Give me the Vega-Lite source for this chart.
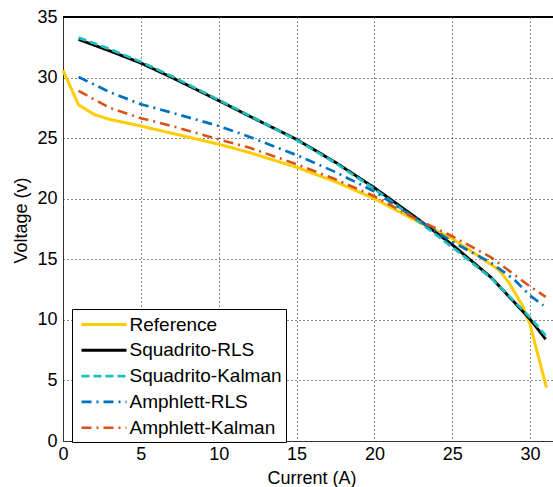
{
  "$schema": "https://vega.github.io/schema/vega-lite/v6.json",
  "width": 490,
  "height": 424,
  "autosize": {"type": "none"},
  "padding": {"left": 63, "top": 17, "right": 0, "bottom": 46},
  "background": "white",
  "config": {
    "view": {"stroke": null},
    "font": "Liberation Sans",
    "axis": {
      "labelFont": "Liberation Sans",
      "titleFont": "Liberation Sans",
      "labelFontSize": 18,
      "titleFontSize": 18,
      "titleFontWeight": "normal",
      "labelColor": "#000",
      "titleColor": "#000",
      "ticks": false,
      "tickSize": 0,
      "domainColor": "#333",
      "domainWidth": 1,
      "grid": true,
      "gridColor": "#111",
      "gridDash": [1, 3],
      "gridWidth": 1,
      "gridOpacity": 1
    }
  },
  "data": {
    "values": [
      {"s": "Reference", "I": 0, "V": 30.6},
      {"s": "Reference", "I": 1, "V": 27.75},
      {"s": "Reference", "I": 2, "V": 26.95},
      {"s": "Reference", "I": 3, "V": 26.55},
      {"s": "Reference", "I": 5, "V": 26.0},
      {"s": "Reference", "I": 7, "V": 25.4},
      {"s": "Reference", "I": 10, "V": 24.5},
      {"s": "Reference", "I": 12, "V": 23.8},
      {"s": "Reference", "I": 15, "V": 22.6},
      {"s": "Reference", "I": 17.5, "V": 21.4},
      {"s": "Reference", "I": 20, "V": 20.0},
      {"s": "Reference", "I": 22.5, "V": 18.3},
      {"s": "Reference", "I": 25, "V": 16.7},
      {"s": "Reference", "I": 27, "V": 15.0},
      {"s": "Reference", "I": 28, "V": 14.1},
      {"s": "Reference", "I": 28.6, "V": 13.15},
      {"s": "Reference", "I": 29.5, "V": 11.2},
      {"s": "Reference", "I": 30.0, "V": 9.6},
      {"s": "Reference", "I": 31.05, "V": 4.4},

      {"s": "Squadrito-RLS", "I": 1, "V": 33.15},
      {"s": "Squadrito-RLS", "I": 3, "V": 32.2},
      {"s": "Squadrito-RLS", "I": 5, "V": 31.2},
      {"s": "Squadrito-RLS", "I": 7, "V": 30.0},
      {"s": "Squadrito-RLS", "I": 10, "V": 28.1},
      {"s": "Squadrito-RLS", "I": 12, "V": 26.8},
      {"s": "Squadrito-RLS", "I": 15, "V": 24.9},
      {"s": "Squadrito-RLS", "I": 17.5, "V": 23.0},
      {"s": "Squadrito-RLS", "I": 20, "V": 20.9},
      {"s": "Squadrito-RLS", "I": 22.5, "V": 18.6},
      {"s": "Squadrito-RLS", "I": 25, "V": 16.2},
      {"s": "Squadrito-RLS", "I": 27.5, "V": 13.5},
      {"s": "Squadrito-RLS", "I": 30, "V": 10.05},
      {"s": "Squadrito-RLS", "I": 31, "V": 8.4},

      {"s": "Squadrito-Kalman", "I": 1, "V": 33.3},
      {"s": "Squadrito-Kalman", "I": 3, "V": 32.35},
      {"s": "Squadrito-Kalman", "I": 5, "V": 31.3},
      {"s": "Squadrito-Kalman", "I": 7, "V": 30.1},
      {"s": "Squadrito-Kalman", "I": 10, "V": 28.15},
      {"s": "Squadrito-Kalman", "I": 12, "V": 26.85},
      {"s": "Squadrito-Kalman", "I": 15, "V": 24.85},
      {"s": "Squadrito-Kalman", "I": 17.5, "V": 22.95},
      {"s": "Squadrito-Kalman", "I": 20, "V": 20.8},
      {"s": "Squadrito-Kalman", "I": 22.5, "V": 18.45},
      {"s": "Squadrito-Kalman", "I": 25, "V": 16.0},
      {"s": "Squadrito-Kalman", "I": 27.5, "V": 13.45},
      {"s": "Squadrito-Kalman", "I": 30, "V": 10.2},
      {"s": "Squadrito-Kalman", "I": 31, "V": 8.7},

      {"s": "Amphlett-RLS", "I": 1, "V": 30.05},
      {"s": "Amphlett-RLS", "I": 3, "V": 28.8},
      {"s": "Amphlett-RLS", "I": 5, "V": 27.8},
      {"s": "Amphlett-RLS", "I": 7, "V": 27.1},
      {"s": "Amphlett-RLS", "I": 10, "V": 26.0},
      {"s": "Amphlett-RLS", "I": 12, "V": 25.1},
      {"s": "Amphlett-RLS", "I": 15, "V": 23.6},
      {"s": "Amphlett-RLS", "I": 17.5, "V": 22.2},
      {"s": "Amphlett-RLS", "I": 20, "V": 20.6},
      {"s": "Amphlett-RLS", "I": 22.5, "V": 18.5},
      {"s": "Amphlett-RLS", "I": 25, "V": 16.45},
      {"s": "Amphlett-RLS", "I": 27.5, "V": 14.7},
      {"s": "Amphlett-RLS", "I": 29, "V": 13.3},
      {"s": "Amphlett-RLS", "I": 30, "V": 12.0},
      {"s": "Amphlett-RLS", "I": 30.85, "V": 11.2},

      {"s": "Amphlett-Kalman", "I": 1, "V": 28.9},
      {"s": "Amphlett-Kalman", "I": 3, "V": 27.5},
      {"s": "Amphlett-Kalman", "I": 5, "V": 26.65},
      {"s": "Amphlett-Kalman", "I": 7, "V": 26.0},
      {"s": "Amphlett-Kalman", "I": 10, "V": 24.9},
      {"s": "Amphlett-Kalman", "I": 12, "V": 24.2},
      {"s": "Amphlett-Kalman", "I": 15, "V": 22.85},
      {"s": "Amphlett-Kalman", "I": 17.5, "V": 21.6},
      {"s": "Amphlett-Kalman", "I": 20, "V": 20.2},
      {"s": "Amphlett-Kalman", "I": 22.5, "V": 18.45},
      {"s": "Amphlett-Kalman", "I": 25, "V": 16.9},
      {"s": "Amphlett-Kalman", "I": 27.5, "V": 15.15},
      {"s": "Amphlett-Kalman", "I": 28.5, "V": 14.2},
      {"s": "Amphlett-Kalman", "I": 30, "V": 12.75},
      {"s": "Amphlett-Kalman", "I": 31, "V": 11.9}
    ]
  },
  "layer": [
    {
      "mark": {"type": "line", "strokeCap": "butt", "strokeJoin": "round"},
      "encoding": {
        "x": {
          "field": "I",
          "type": "quantitative",
          "scale": {"domain": [0, 31.47], "nice": false, "zero": false},
          "axis": {
            "title": "Current (A)",
            "values": [0, 5, 10, 15, 20, 25, 30],
            "grid": true,
            "labelPadding": 4,
            "titlePadding": 6,
            "titleX": 248.5,
            "labelFlush": false
          }
        },
        "y": {
          "field": "V",
          "type": "quantitative",
          "scale": {"domain": [0, 35], "nice": false},
          "axis": {
            "title": "Voltage (v)",
            "values": [0, 5, 10, 15, 20, 25, 30, 35],
            "grid": true,
            "labelPadding": 6,
            "titlePadding": 6,
            "titleY": 203
          }
        },
        "order": {"field": "I", "type": "quantitative"},
        "color": {
          "field": "s",
          "type": "nominal",
          "scale": {
            "domain": ["Reference", "Squadrito-RLS", "Squadrito-Kalman", "Amphlett-RLS", "Amphlett-Kalman"],
            "range": ["#FFCC00", "#000000", "#1CBFBF", "#0072BD", "#D95319"]
          },
          "legend": {
            "title": null,
            "orient": "none",
            "legendX": 9,
            "legendY": 292,
            "symbolType": "M-2.25,0H2.25",
            "symbolSize": 400,
            "symbolOffset": 16.5,
            "labelOffset": 14,
            "labelExpr": "datum.label + ' '",
            "labelFont": "Liberation Sans",
            "labelFontSize": 19,
            "labelColor": "#000",
            "labelLimit": 300,
            "fillColor": "white",
            "strokeColor": "#000",
            "padding": 4,
            "rowPadding": 3.8
          }
        },
        "strokeDash": {
          "field": "s",
          "type": "nominal",
          "scale": {
            "domain": ["Reference", "Squadrito-RLS", "Squadrito-Kalman", "Amphlett-RLS", "Amphlett-Kalman"],
            "range": [[1, 0], [1, 0], [8, 4], [10, 5, 2, 5], [10, 5, 2, 5]]
          },
          "legend": null
        },
        "strokeWidth": {
          "field": "s",
          "type": "nominal",
          "scale": {
            "domain": ["Reference", "Squadrito-RLS", "Squadrito-Kalman", "Amphlett-RLS", "Amphlett-Kalman"],
            "range": [3, 2.6, 1.8, 2.8, 4]
          },
          "legend": null
        }
      }
    },
    {
      "mark": {"type": "rule", "color": "#000", "strokeWidth": 1},
      "encoding": {"y": {"datum": 35}}
    }
  ]
}
